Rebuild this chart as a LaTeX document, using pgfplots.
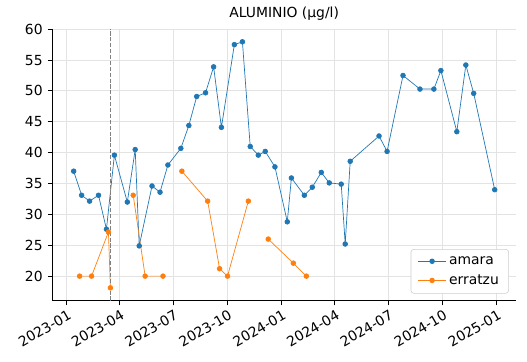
\documentclass[border=0pt]{standalone}
\usepackage{fontspec}
\setmainfont{DejaVu Sans}
\usepackage{pgfplots}
\pgfplotsset{compat=1.18}
\definecolor{tabblue}{HTML}{1F77B4}
\definecolor{taborange}{HTML}{FF7F0E}
\definecolor{gridc}{HTML}{E3E3E3}
\definecolor{legc}{HTML}{CCCCCC}
\begin{document}
\begin{tikzpicture}
\begin{axis}[
  scale only axis,
  width=333.5pt, height=195.6pt,
  xmin=-24, xmax=763.5,
  ymin=16.05, ymax=60.05,
  axis lines=left,
  axis line style={-, line width=0.8pt},
  tick align=outside,
  major tick length=3.5pt,
  tick style={line width=0.8pt, black},
  xtick={0,90,181,273,365,456,547,639,731},
  xticklabels={2023-01,2023-04,2023-07,2023-10,2024-01,2024-04,2024-07,2024-10,2025-01},
  xticklabel style={rotate=30, anchor=north east, inner sep=1pt, yshift=-1.5pt},
  ytick={20,25,30,35,40,45,50,55,60},
  yticklabel style={inner sep=1pt, xshift=-2.5pt},
  /pgf/number format/assume math mode=true,
  grid=major,
  grid style={line width=0.8pt, gridc},
  title={ALUMINIO (µg/l)},
  title style={at={(0.5,1)}, anchor=base, yshift=2pt, inner sep=0pt},
  unbounded coords=jump,
  legend style={at={(1,0)}, anchor=south east, xshift=-5pt, yshift=5pt,
    draw=legc, rounded corners=2pt, font=\normalsize, row sep=2pt,
    inner xsep=5pt, inner ysep=3pt},
  legend cell align=left,
  legend image code/.code={\draw[mark repeat=2,mark phase=2] plot coordinates {(0cm,0cm) (0.35cm,0cm) (0.7cm,0cm)};},
]
\addplot[color=tabblue, line width=0.5pt, mark=*, mark size=1.7pt, mark options={solid}] table {
x y
11.8 37.0
25.3 33.1
38.8 32.15
54 33.1
67.5 27.6
81 39.6
103 32.0
116.4 40.5
123.2 24.9
145 34.6
158.6 33.6
172 38.0
194 40.7
207.6 44.4
221 49.1
236 49.7
249.75 53.9
263 44.1
285 57.5
298.7 57.96
312 41.0
325.7 39.6
337.5 40.2
354 37.7
375 28.8
382 35.9
404 33.1
417.5 34.4
432.8 36.8
446.4 35.1
466.7 34.9
473.5 25.2
482 38.6
531 42.7
544.7 40.2
571.8 52.5
600.6 50.3
624.3 50.3
636.2 53.3
663.3 43.4
678.6 54.2
692 49.6
727.7 34.0
};
\addlegendentry{amara}
\addplot[color=taborange, line width=0.5pt, mark=*, mark size=1.7pt, mark options={solid}] table {
x y
21.9 20
42.2 20
70.9 27.15
74.25 18.1
90 nan
113 33.1
133.3 20
163.7 20
180 nan
195.75 37.0
239.6 32.15
259.9 21.2
273.4 20
308.8 32.15
320 nan
342.6 26.0
385.3 22.1
407.4 20
};
\addlegendentry{erratzu}
\draw[black!50, line width=0.8pt, dash pattern=on 2.96pt off 1.28pt]
  ({axis cs:74.25,30}|-{rel axis cs:0,0}) -- ({axis cs:74.25,30}|-{rel axis cs:0,1});
\end{axis}
\pgfresetboundingbox
\useasboundingbox (-37.9pt,-43.6pt) rectangle (341.6pt,216.4pt);
\end{tikzpicture}
\end{document}
